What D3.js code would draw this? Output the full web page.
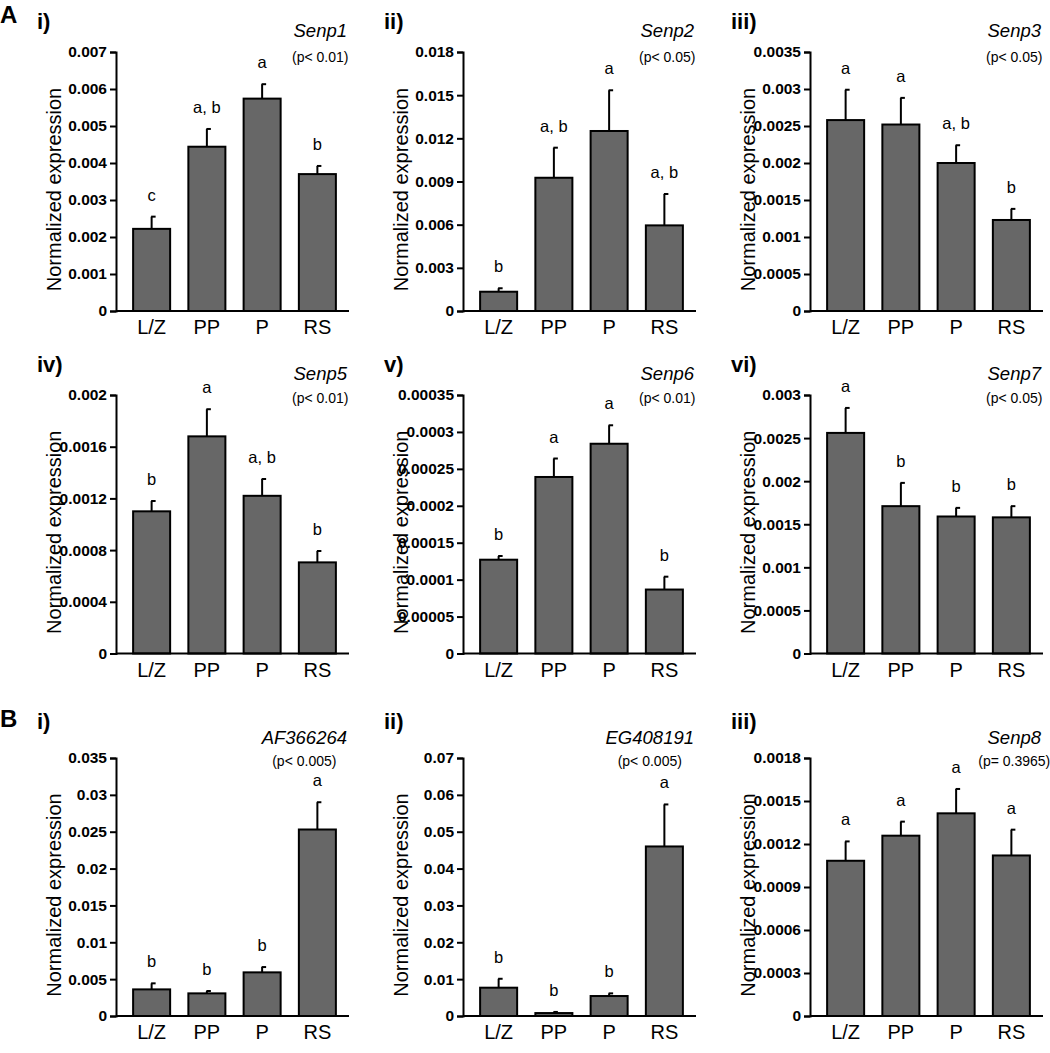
<!DOCTYPE html>
<html>
<head>
<meta charset="utf-8">
<script src="https://cdn.jsdelivr.net/npm/d3@7"></script>
<style>
  html, body { margin: 0; padding: 0; background: #fff; }
  svg { display: block; }
  text { font-family: "Liberation Sans", Arial, Helvetica, sans-serif; fill: #000; }
</style>
</head>
<body>
<svg id="chart" width="1050" height="1053"></svg>
<script>
// ---------------- data ----------------
const categories = ["L/Z", "PP", "P", "RS"];

const sectionLabels = ["A", "B"];
const panelLabels = ["i)", "ii)", "iii)", "iv)", "v)", "vi)", "i)", "ii)", "iii)"];
const geneNames = ["Senp1", "Senp2", "Senp3", "Senp5", "Senp6", "Senp7", "AF366264", "EG408191", "Senp8"];
const pValues = ["(p< 0.01)", "(p< 0.05)", "(p< 0.05)", "(p< 0.01)", "(p< 0.01)", "(p< 0.05)", "(p< 0.005)", "(p< 0.005)", "(p= 0.3965)"];

const yMaxes  = [0.007, 0.018, 0.0035, 0.002, 0.00035, 0.003, 0.035, 0.07, 0.0018];
const yStepss = [0.001, 0.003, 0.0005, 0.0004, 0.00005, 0.0005, 0.005, 0.01, 0.0003];

const senp1Mean = [0.00222, 0.00444, 0.00574, 0.00370];
const senp1Err  = [0.00255, 0.00492, 0.00613, 0.00392];
const senp1Sig  = ["c", "a, b", "a", "b"];

const senp2Mean = [0.00134, 0.00926, 0.01251, 0.00595];
const senp2Err  = [0.00158, 0.01135, 0.01534, 0.00813];
const senp2Sig  = ["b", "a, b", "a", "a, b"];

const senp3Mean = [0.00258, 0.00252, 0.00200, 0.00123];
const senp3Err  = [0.00299, 0.00288, 0.00224, 0.00138];
const senp3Sig  = ["a", "a", "a, b", "b"];

const senp5Mean = [0.00110, 0.00168, 0.00122, 0.000705];
const senp5Err  = [0.00118, 0.00189, 0.00135, 0.000793];
const senp5Sig  = ["b", "a", "a, b", "b"];

const senp6Mean = [0.000127, 0.000239, 0.000284, 0.0000866];
const senp6Err  = [0.000132, 0.000264, 0.000309, 0.000104];
const senp6Sig  = ["b", "a", "a", "b"];

const senp7Mean = [0.00256, 0.00171, 0.00159, 0.00158];
const senp7Err  = [0.00285, 0.00198, 0.00169, 0.00171];
const senp7Sig  = ["a", "b", "b", "b"];

const af366264Mean = [0.00361, 0.00307, 0.00592, 0.0253];
const af366264Err  = [0.00443, 0.00339, 0.00664, 0.0290];
const af366264Sig  = ["b", "b", "b", "a"];

const eg408191Mean = [0.00768, 0.0008, 0.00542, 0.0460];
const eg408191Err  = [0.0101, 0.0011, 0.00614, 0.0574];
const eg408191Sig  = ["b", "b", "b", "a"];

const senp8Mean = [0.001083, 0.001258, 0.001414, 0.00112];
const senp8Err  = [0.001218, 0.001356, 0.001584, 0.00130];
const senp8Sig  = ["a", "a", "a", "a"];

const meansAll = [senp1Mean, senp2Mean, senp3Mean, senp5Mean, senp6Mean, senp7Mean, af366264Mean, eg408191Mean, senp8Mean];
const errsAll  = [senp1Err, senp2Err, senp3Err, senp5Err, senp6Err, senp7Err, af366264Err, eg408191Err, senp8Err];
const sigsAll  = [senp1Sig, senp2Sig, senp3Sig, senp5Sig, senp6Sig, senp7Sig, af366264Sig, eg408191Sig, senp8Sig];

// ---------------- layout ----------------
const colAxisX = [116, 463, 810];
const rowGeom = [
  { top: 52,  zero: 311,   secBase: 23,  panBase: 29,  titleBase: 37,  pBase: 62 },
  { top: 395, zero: 653.5, secBase: null, panBase: 372, titleBase: 380, pBase: 403 },
  { top: 758, zero: 1016,  secBase: 727, panBase: 729, titleBase: 744, pBase: 766 }
];
const axisLen = 233;

const svg = d3.select("#chart");
const fmt = d => d === 0 ? "0" : String(+d.toFixed(8));

meansAll.forEach((means, idx) => {
  const row = Math.floor(idx / 3), col = idx % 3;
  const g0 = rowGeom[row];
  const ax = colAxisX[col];
  const g = svg.append("g");

  const x = d3.scaleBand().domain(categories)
    .range([ax + 8, ax + 229]).paddingInner(0.33).paddingOuter(0.165);
  const y = d3.scaleLinear().domain([0, yMaxes[idx]]).range([g0.zero, g0.top]);

  const nT = Math.round(yMaxes[idx] / yStepss[idx]);
  const ticks = d3.range(0, nT + 1).map(i => +(i * yStepss[idx]).toFixed(8));

  const data = categories.map((c, i) => ({ c, m: means[i], e: errsAll[idx][i], s: sigsAll[idx][i] }));

  // error bars (upper only)
  const eb = g.append("g").attr("stroke", "#000").attr("stroke-width", 2);
  data.forEach(d => {
    const cx = x(d.c) + x.bandwidth() / 2;
    eb.append("line").attr("x1", cx).attr("x2", cx).attr("y1", y(d.m)).attr("y2", y(d.e));
    eb.append("line").attr("x1", cx - 0.5).attr("x2", cx + 4).attr("y1", y(d.e)).attr("y2", y(d.e));
  });

  // bars
  g.selectAll("rect.bar").data(data).enter().append("rect")
    .attr("class", "bar")
    .attr("x", d => x(d.c))
    .attr("width", x.bandwidth())
    .attr("y", d => y(d.m))
    .attr("height", d => y(0) - y(d.m))
    .attr("fill", "#676767")
    .attr("stroke", "#000")
    .attr("stroke-width", 2);

  // significance letters
  g.selectAll("text.sig").data(data).enter().append("text")
    .attr("class", "sig")
    .attr("x", d => x(d.c) + x.bandwidth() / 2)
    .attr("y", d => y(d.e) - 16)
    .attr("text-anchor", "middle")
    .attr("font-size", 16.5)
    .text(d => d.s);

  // y axis
  const yAxis = d3.axisLeft(y).tickValues(ticks).tickFormat(fmt).tickSize(6).tickPadding(3);
  const ya = g.append("g").attr("transform", `translate(${ax},0)`).call(yAxis);
  ya.select(".domain").attr("stroke-width", 2);
  ya.selectAll(".tick line").attr("stroke-width", 2);
  ya.selectAll(".tick text").attr("font-size", 15.5).attr("font-weight", "bold")
    .attr("font-family", "'Liberation Sans', Arial, sans-serif");

  // x axis
  const xAxis = d3.axisBottom(x).tickSize(0).tickPadding(9);
  const xa = g.append("g").attr("transform", `translate(0,${g0.zero})`).call(xAxis);
  xa.select(".domain").remove();
  xa.append("line").attr("x1", ax).attr("x2", ax + axisLen).attr("y1", 0).attr("y2", 0)
    .attr("stroke", "#000").attr("stroke-width", 2);
  xa.selectAll(".tick text").attr("font-size", 20)
    .attr("font-family", "'Liberation Sans', Arial, sans-serif");

  // y label
  g.append("text")
    .attr("transform", `translate(${ax - 62},${(g0.top + g0.zero) / 2 + 8}) rotate(-90)`)
    .attr("dy", "0.35em")
    .attr("text-anchor", "middle")
    .attr("font-size", 20)
    .text("Normalized expression");

  // gene title + p value
  const title = g.append("text")
    .attr("x", ax + 231).attr("y", g0.titleBase)
    .attr("text-anchor", "end")
    .attr("font-size", 18.5).attr("font-style", "italic")
    .text(geneNames[idx]);
  const tw = title.node().getComputedTextLength();
  g.append("text")
    .attr("x", ax + 231 - tw / 2).attr("y", g0.pBase)
    .attr("text-anchor", "middle")
    .attr("font-size", 14)
    .text(pValues[idx]);

  // panel label
  g.append("text")
    .attr("x", ax - 79).attr("y", g0.panBase)
    .attr("font-size", 22).attr("font-weight", "bold")
    .text(panelLabels[idx]);
});

// section labels
svg.append("text").attr("x", 0).attr("y", rowGeom[0].secBase)
  .attr("font-size", 24).attr("font-weight", "bold").text(sectionLabels[0]);
svg.append("text").attr("x", 0).attr("y", rowGeom[2].secBase)
  .attr("font-size", 24).attr("font-weight", "bold").text(sectionLabels[1]);
</script>
</body>
</html>
